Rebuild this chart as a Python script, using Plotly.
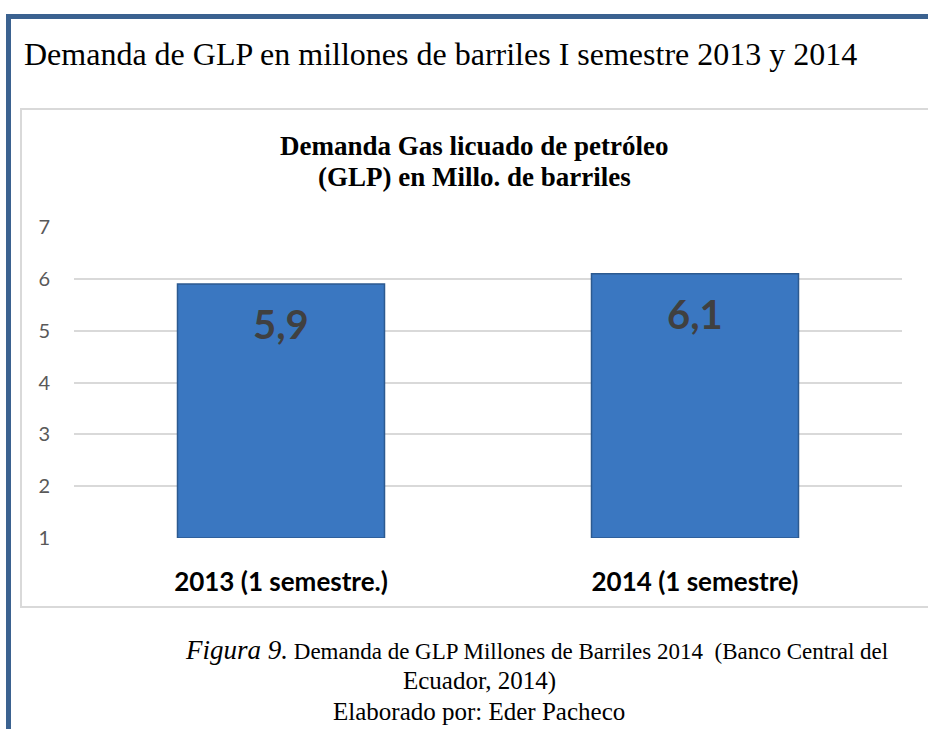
import plotly.graph_objects as go

categories = ["2013 (1 semestre.)", "2014 (1 semestre)"]
values = [5.9, 6.1]
value_labels = ["5,9", "6,1"]
y_ticks = [1, 2, 3, 4, 5, 6, 7]

W, H = 928, 729
L, R, T, B = 74, 902, 227, 538


def px(x):
    return (x - L) / (R - L)


def py(y):
    return (B - y) / (B - T)


fig = go.Figure()
fig.add_trace(go.Bar(
    x=categories, y=[v - 1 for v in values], base=1,
    marker=dict(color="#3A77C1", line=dict(color="#2C5A90", width=1.5)),
    width=0.5, hoverinfo="skip",
))

annotations = []
for c, v, t in zip(categories, values, value_labels):
    annotations.append(dict(x=c, y=v, xref="x", yref="y", text=t, showarrow=False,
                            yanchor="top", yshift=-14,
                            font=dict(family="Lato", size=40, color="#404040", weight="bold")))

serif = "Liberation Serif"
black = "#000000"
annotations += [
    dict(x=px(22), y=py(54), xref="paper", yref="paper", xanchor="left", yanchor="middle",
         text="Demanda de GLP en millones de barriles I semestre 2013 y 2014", showarrow=False,
         font=dict(family=serif, size=32, color=black)),
    dict(x=px(474), y=py(146), xref="paper", yref="paper", xanchor="center", yanchor="middle",
         text="Demanda Gas licuado de petróleo", showarrow=False,
         font=dict(family=serif, size=27, color=black, weight="bold")),
    dict(x=px(474), y=py(177), xref="paper", yref="paper", xanchor="center", yanchor="middle",
         text="(GLP) en Millo. de barriles", showarrow=False,
         font=dict(family=serif, size=27, color=black, weight="bold")),
    dict(x=px(536), y=py(650), xref="paper", yref="paper", xanchor="center", yanchor="middle",
         text="<i><span style='font-size:27px'>Figura 9.</span></i> Demanda de GLP Millones de Barriles 2014  (Banco Central del",
         showarrow=False, font=dict(family=serif, size=23, color=black)),
    dict(x=px(479), y=py(681), xref="paper", yref="paper", xanchor="center", yanchor="middle",
         text="Ecuador, 2014)", showarrow=False, font=dict(family=serif, size=25, color=black)),
    dict(x=px(479), y=py(711), xref="paper", yref="paper", xanchor="center", yanchor="middle",
         text="Elaborado por: Eder Pacheco", showarrow=False, font=dict(family=serif, size=25, color=black)),
]

shapes = [
    dict(type="rect", xref="paper", yref="paper", x0=px(21), y0=py(109), x1=px(960), y1=py(607),
         line=dict(color="#D9D9D9", width=2), layer="below"),
    dict(type="rect", xref="paper", yref="paper", x0=px(8.5), y0=py(16.5), x1=px(980), y1=py(800),
         line=dict(color="#3B6290", width=5), layer="below"),
]

fig.update_layout(
    width=W, height=H,
    margin=dict(l=L, r=W - R, t=T, b=H - B),
    paper_bgcolor="white", plot_bgcolor="white",
    showlegend=False, bargap=0.5,
    annotations=annotations, shapes=shapes,
    xaxis=dict(showgrid=False, showline=False, zeroline=False, ticks="",
               ticklabelstandoff=26,
               tickfont=dict(family="Lato", size=26, color=black, weight="bold")),
    yaxis=dict(range=[1, 7], tickvals=y_ticks, showgrid=True, gridcolor="#D9D9D9", gridwidth=1.5,
               zeroline=False, showline=False, ticks="", ticklabelstandoff=23,
               tickfont=dict(family="Lato", size=20, color="#595959")),
)

fig.write_html("out.html", config={"displayModeBar": False},
               post_script="document.body.style.margin='0';document.body.style.overflow='hidden';")
